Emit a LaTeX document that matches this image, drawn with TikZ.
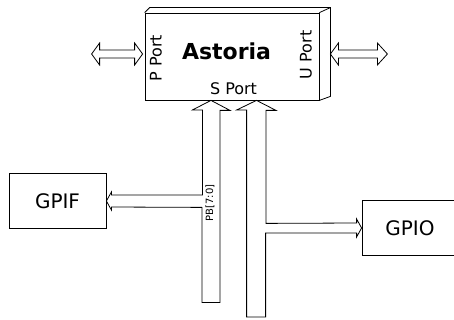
\documentclass[tikz,border=0pt]{standalone}
\usepackage{fontspec}
\setmainfont{DejaVu Sans}
\usetikzlibrary{calc,positioning}

\begin{document}
\begin{tikzpicture}[x=1pt, y=-1pt, line width=0.8pt,
	block/.style={draw, rectangle, inner sep=0pt, font=\fontsize{20}{20}\selectfont},
	portlabel/.style={inner sep=0pt, font=\fontsize{16}{16}\selectfont}]

	\useasboundingbox (0,0) rectangle (454,320);
	\clip (0,0) rectangle (454,320);

	% ---- blocks

	\node[block, minimum width=174pt, minimum height=87pt] (astoria) at (232,56.5) {};
	\node[block, minimum width=97pt, minimum height=55pt] (gpif) at (57.5,201) {GPIF};
	\node[block, minimum width=96pt, minimum height=55pt] (gpio) at (410,228) {GPIO};

	% side and top of the chip
	\draw (astoria.north west) -- ++(5,-5) -- ($(astoria.north east)+(11,-5)$)
		-- ($(astoria.south east)+(11,-4)$) -- (astoria.south east);
	\draw (astoria.north east) -- ++(11,-5);

	% ---- labels

	\node[anchor=base, font=\bfseries\fontsize{22}{22}\selectfont] (title) at (226.5,60) {Astoria};
	\node[portlabel, rotate=90] (pport) at (156,58) {P Port};
	\node[portlabel, rotate=90] (uport) at (306,55) {U Port};
	\node[portlabel, anchor=base] (sport) at (233.5,95) {S Port};
	\node[inner sep=0pt, rotate=90, font=\fontsize{10}{10}\selectfont] (pb) at (210,203) {PB[7:0]};

	% ---- ports

	\coordinate (pa) at ($(astoria.west)+(-53,-2.5)$);
	\coordinate (ua) at ($(astoria.east)+(11,-2.5)$);
	\coordinate (s1) at ($(astoria.south)+(-21,0)$);
	\coordinate (s2) at ($(astoria.south)+(24.5,0)$);

	% P port
	\draw (pa) -- ++(8,-11) -- ++(0,7) -- ++(35,0) -- ++(0,-7) -- ++(8,11)
		-- ++(-8,11) -- ++(0,-7) -- ++(-35,0) -- ++(0,7) -- cycle;

	% U port
	\draw (ua) -- ++(8,-11) -- ++(0,7) -- ++(39,0) -- ++(0,-7) -- ++(10,11)
		-- ++(-10,11) -- ++(0,-7) -- ++(-39,0) -- ++(0,7) -- cycle;

	% S port bus to GPIF
	\draw (s1) -- ++(19,10) -- ++(-10,0) -- ++(0,192) -- ++(-18,0) -- ++(0,-95)
		-- ($(gpif.east)+(5,6)$) -- ++(0,3) -- (gpif.east) -- ++(5,-9) -- ++(0,3)
		-- ++(91,0) -- ++(0,-85) -- ++(-10,0) -- cycle;

	% S port bus to GPIO
	\draw (s2) -- ++(19.5,10) -- ++(-10,0) -- ++(0,113)
		-- ($(gpio.west)+(-5,-5)$) -- ++(0,-4) -- (gpio.west) -- ++(-5,9) -- ++(0,-4)
		-- ++(-91,0) -- ++(0,84) -- ++(-19,0) -- ++(0,-207) -- ++(-10,0) -- cycle;

\end{tikzpicture}
\end{document}
